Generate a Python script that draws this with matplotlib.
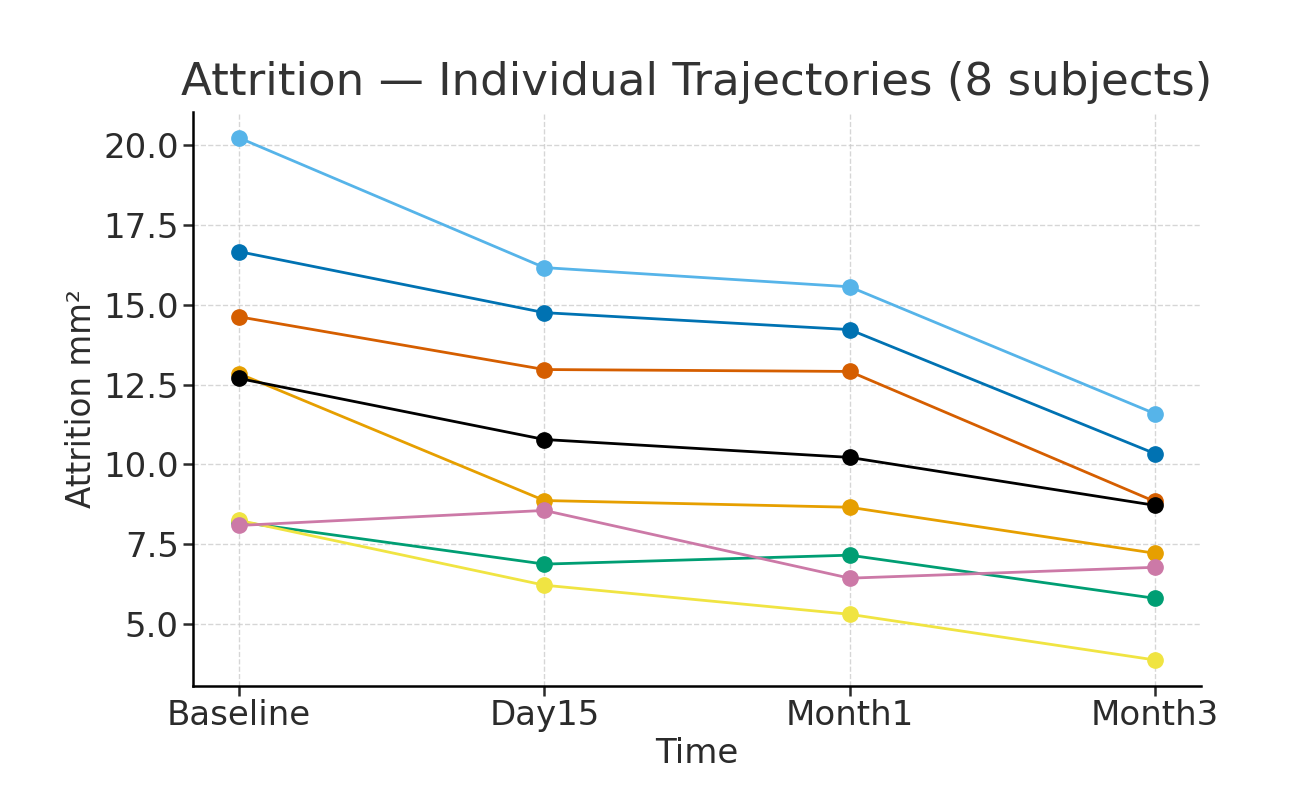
import numpy as np
import matplotlib.pyplot as plt

timepoints = ['Baseline', 'Day15', 'Month1', 'Month3']

# attrition per subject (mm^2)
subj_orange = [12.84, 8.87, 8.66, 7.22]
subj_skyblue = [20.22, 16.16, 15.56, 11.59]
subj_green = [8.20, 6.88, 7.16, 5.81]
subj_yellow = [8.25, 6.22, 5.31, 3.88]
subj_blue = [16.66, 14.75, 14.22, 10.34]
subj_vermillion = [14.62, 12.97, 12.91, 8.84]
subj_pink = [8.09, 8.56, 6.44, 6.78]
subj_black = [12.69, 10.78, 10.22, 8.72]

series = [subj_orange, subj_skyblue, subj_green, subj_yellow,
          subj_blue, subj_vermillion, subj_pink, subj_black]
colors = ['#E69F00', '#56B4E9', '#009E73', '#F0E442',
          '#0072B2', '#D55E00', '#CC79A7', '#000000']

fig = plt.figure(figsize=(12.98, 8.10), dpi=100)
ax = fig.add_axes([0.149, 0.153, 0.776, 0.709])

x = np.arange(len(timepoints))
for vals, c in zip(series, colors):
    ax.plot(x, vals, marker='o', color=c, linewidth=2.0, markersize=11)

ax.set_xticks(x)
ax.set_xticklabels(timepoints)
ax.set_yticks([5.0, 7.5, 10.0, 12.5, 15.0, 17.5, 20.0])
ax.grid(True, linestyle='--', color='#cccccc', linewidth=1.0, alpha=0.8)
ax.set_axisbelow(True)

ax.spines['top'].set_visible(False)
ax.spines['right'].set_visible(False)
for s in ['left', 'bottom']:
    ax.spines[s].set_linewidth(1.8)
ax.tick_params(labelsize=24.5, width=1.8, length=7, colors='#2b2b2b', labelcolor='#2b2b2b')
ax.tick_params(axis='x', pad=2)

ax.set_title('Attrition — Individual Trajectories (8 subjects)', fontsize=32.5, color='#333333', pad=12)
ax.set_xlabel('Time', fontsize=24.5, color='#2b2b2b', labelpad=4)
ax.set_ylabel('Attrition mm²', fontsize=23.5, color='#2b2b2b')

fig.savefig('out.png', dpi=100)
